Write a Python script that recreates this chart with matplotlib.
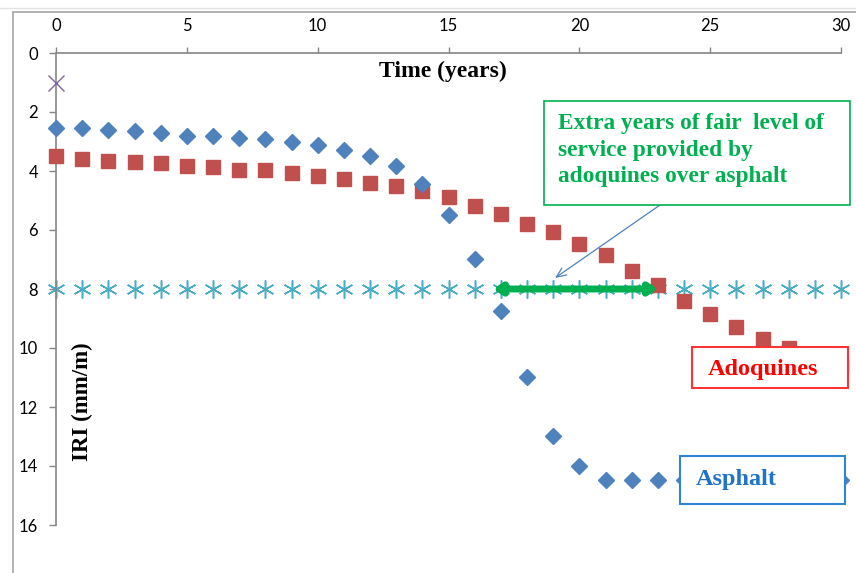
import matplotlib.pyplot as plt
from matplotlib.patches import Rectangle
import numpy as np

# Data (IRI in mm/m over time in years)
years = np.arange(0, 31)
asphalt = [2.55, 2.55, 2.6, 2.65, 2.7, 2.8, 2.8, 2.87, 2.92, 3.03, 3.12, 3.28, 3.5, 3.83,
           4.45, 5.49, 6.98, 8.75, 10.98, 12.98, 14.0, 14.47, 14.47, 14.47, 14.47,
           14.47, 14.47, 14.47, 14.47, 14.47, 14.47]
adoquines = [3.49, 3.58, 3.65, 3.7, 3.74, 3.82, 3.88, 3.96, 3.96, 4.06, 4.17, 4.28, 4.39,
             4.5, 4.68, 4.87, 5.18, 5.47, 5.78, 6.06, 6.49, 6.86, 7.39, 7.85, 8.4, 8.85,
             9.28, 9.68, 10.0, 10.3, 10.6]
threshold = [8.0] * len(years)
initial_x, initial_iri = [0], [1.0]
extra_start, extra_end = 16.7, 23.0

W, H = 856, 573
fig = plt.figure(figsize=(W / 100, H / 100), dpi=100)

def fx(x):
    return x / W

def fy(y):
    return 1 - y / H

# chart area border
fig.add_artist(plt.Line2D([0, 1], [fy(8), fy(8)], color='#e3e3e3', lw=1, transform=fig.transFigure))
fig.add_artist(Rectangle((fx(13), -0.1), 1.2, fy(12) + 0.1, fill=False, ec='#a6a6a6', lw=1.2,
                         transform=fig.transFigure))

ax = fig.add_axes([fx(56), fy(525), fx(841) - fx(56), fy(53) - fy(525)])
ax.set_xlim(0, 30)
ax.set_ylim(16, 0)

ax.plot(years, threshold, ls='none', marker=(6, 2, 0), ms=13, mew=1.1, color='#4bacc6',
        clip_on=False, zorder=2)
ax.plot(years, adoquines, ls='none', marker='s', ms=10.5, color='#c0504d', clip_on=False, zorder=3)
ax.plot(years, asphalt, ls='none', marker='D', ms=8.3, color='#4f81bd', clip_on=False, zorder=3)
ax.plot(initial_x, initial_iri, ls='none', marker='x', ms=11, mew=1.0, color='#8064a2',
        clip_on=False, zorder=3)

ax.annotate('', xy=(extra_start, 8), xytext=(extra_end, 8),
            arrowprops=dict(arrowstyle='<|-|>,head_length=0.45,head_width=0.3', color='#00b050',
                            lw=5, shrinkA=0, shrinkB=0, mutation_scale=10), zorder=4)

for s in ['right', 'bottom']:
    ax.spines[s].set_visible(False)
for s in ['top', 'left']:
    ax.spines[s].set_color('#868686')
    ax.spines[s].set_linewidth(1.2)
ax.xaxis.tick_top()
ax.set_xticks(np.arange(0, 31, 5))
ax.set_yticks(np.arange(0, 17, 2))
ax.tick_params(axis='x', length=4.5, width=1, color='#868686', pad=9, labelsize=12)
ax.tick_params(axis='y', length=5, width=1, color='#868686', pad=8, labelsize=12)
for lab in ax.get_xticklabels() + ax.get_yticklabels():
    lab.set_fontfamily('Lato')

serif = 'Liberation Serif'
fig.text(fx(443), fy(71), 'Time (years)', family=serif, weight='bold', fontsize=17,
         ha='center', va='center')
fig.text(fx(82), fy(402), 'IRI (mm/m)', family=serif, weight='bold', fontsize=16.5,
         ha='center', va='center', rotation=90)

# callout box
fig.add_artist(Rectangle((fx(544), fy(205)), fx(850) - fx(544), fy(101) - fy(205), fc='white',
                         ec='#00b050', lw=1.2, transform=fig.transFigure, zorder=5))
lines = ['Extra years of fair  level of', 'service provided by', 'adoquines over asphalt']
for i, t in enumerate(lines):
    fig.text(fx(558), fy(124 + 26.5 * i), t, family=serif, weight='bold', fontsize=16.8,
             color='#00b050', ha='left', va='center', zorder=6)
ax.annotate('', xy=(fx(555), fy(278)), xytext=(fx(660), fy(205)), xycoords='figure fraction',
            textcoords='figure fraction',
            arrowprops=dict(arrowstyle='->,head_length=0.7,head_width=0.3', color='#4f81bd', lw=0.9,
                            shrinkA=0, shrinkB=0), zorder=6)

# series labels
fig.add_artist(Rectangle((fx(692), fy(388)), fx(848) - fx(692), fy(347) - fy(388), fc='white',
                         ec='#ff3333', lw=1.5, transform=fig.transFigure, zorder=5))
fig.text(fx(763), fy(369), 'Adoquines', family=serif, weight='bold', fontsize=17.5, color='#ff0000',
         ha='center', va='center', zorder=6)
fig.add_artist(Rectangle((fx(680), fy(504)), fx(845) - fx(680), fy(456) - fy(504), fc='white',
                         ec='#2e86d0', lw=1.5, transform=fig.transFigure, zorder=5))
fig.text(fx(696), fy(480), 'Asphalt', family=serif, weight='bold', fontsize=17.5, color='#1f74c8',
         ha='left', va='center', zorder=6)

fig.savefig('out.png', dpi=100)
